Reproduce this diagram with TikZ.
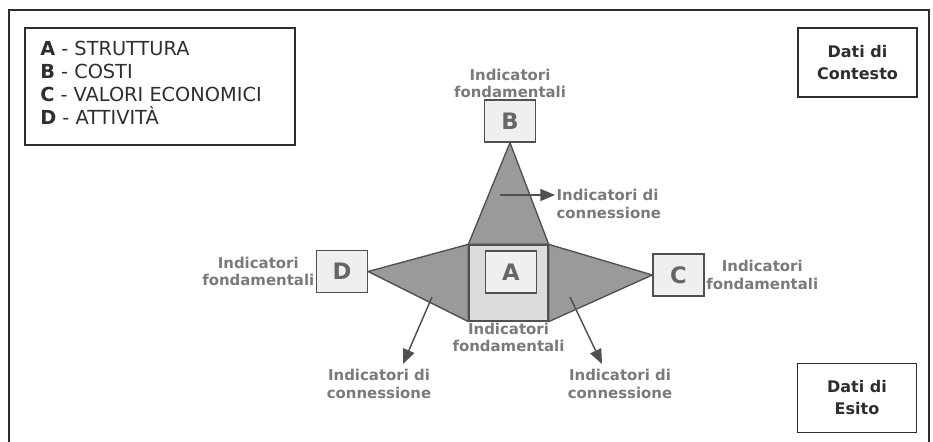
\documentclass[tikz,border=0pt]{standalone}
\usepackage{fontspec}
\setmainfont{DejaVu Sans}
\usetikzlibrary{arrows.meta,backgrounds}
\definecolor{dark}{HTML}{2E2E2E}
\definecolor{edge}{HTML}{505050}
\definecolor{trifill}{HTML}{9A9A9A}
\definecolor{corefill}{HTML}{DCDCDC}
\definecolor{boxfill}{HTML}{EFEFEF}
\definecolor{lettergray}{HTML}{666666}
\definecolor{lblgray}{HTML}{7A7A7A}
\begin{document}
\begin{tikzpicture}[x=0.75pt,y=-0.75pt,
  letterbox/.style={draw=edge, line width=1pt, fill=boxfill,
    minimum width=38.25pt, minimum height=31.5pt, inner sep=0pt,
    font=\fontsize{17}{17}\selectfont\bfseries, text=lettergray},
  corebox/.style={draw=edge, line width=1pt, fill=corefill,
    minimum width=59.25pt, minimum height=57pt, inner sep=0pt},
  lbl/.style={font=\fontsize{11.2}{13}\selectfont\bfseries, text=lblgray,
    align=center, inner sep=1pt},
  datobox/.style={draw=dark, line width=1pt, minimum width=89.25pt,
    minimum height=51.75pt, align=center, inner sep=0pt,
    font=\fontsize{12}{16.5}\selectfont\bfseries, text=dark},
  arr/.style={draw=edge, line width=1.1pt, -{Triangle[length=11pt,width=9pt]}},
  tri/.style={fill=trifill, draw=edge, line width=1pt, line join=round}]
\useasboundingbox (0,0) rectangle (933,442);

% outer frame, open at the bottom
\draw[dark, line width=0.9pt] (9,460) -- (9,10) -- (929,10) -- (929,460);

% legend
\node[draw=dark, line width=1pt, minimum width=202.5pt, minimum height=87.75pt,
  inner sep=0pt] (legend) at (160,86.5) {};
\node[anchor=west, align=left, inner sep=0pt, text=dark,
  font=\fontsize{14.5}{17.25}\selectfont] (legtext) at (40,82.75)
  {\textbf{A} - STRUTTURA\\ \textbf{B} - COSTI\\
   \textbf{C} - VALORI ECONOMICI\\ \textbf{D} - ATTIVITÀ};

% data boxes
\node[datobox] (ctx) at (857.5,62.5) {Dati di\\Contesto};
\node[datobox] (esito) at (857,398) {Dati di\\Esito};

% central core and the four components
\node[corebox] (Aout) at (508.5,283) {};
\node[letterbox] (A) at (511,272) {A};
\node[letterbox] (B) at (510,121) {B};
\node[letterbox] (D) at (342,271.5) {D};
\node[letterbox] (C) at (678.5,275) {C};

% connection wedges behind the boxes
\begin{scope}[on background layer]
  \draw[tri] (B.south) -- (Aout.north east) -- (Aout.north west) -- cycle;
  \draw[tri] (D.east) -- (Aout.north west) -- (Aout.south west) -- cycle;
  \draw[tri] (C.west) -- (Aout.north east) -- (Aout.south east) -- cycle;
\end{scope}

% fundamental indicator labels
\node[lbl, anchor=south] (Blbl) at (B.north) {Indicatori\\fondamentali};
\node[lbl, anchor=east] (Dlbl) at (D.west) {Indicatori\\fondamentali};
\node[lbl, anchor=west] (Clbl) at (C.east) {Indicatori\\fondamentali};
\node[lbl, anchor=north] (Albl) at (Aout.south) {Indicatori\\fondamentali};

% connection indicator labels and pointers
\node[lbl, align=left, anchor=west] (Bconn) at (555,204) {Indicatori di\\connessione};
\node[lbl] (Dconn) at (379,384) {Indicatori di\\connessione};
\node[lbl] (Cconn) at (620,384) {Indicatori di\\connessione};

\coordinate (bs) at (500,195);
\coordinate (ds) at (432,297);
\coordinate (de) at (403,364);
\coordinate (cs) at (570,297);
\coordinate (ce) at (602,364);
\draw[arr] (bs) -- (bs -| Bconn.west);
\draw[arr] (ds) -- (de);
\draw[arr] (cs) -- (ce);
\end{tikzpicture}
\end{document}
